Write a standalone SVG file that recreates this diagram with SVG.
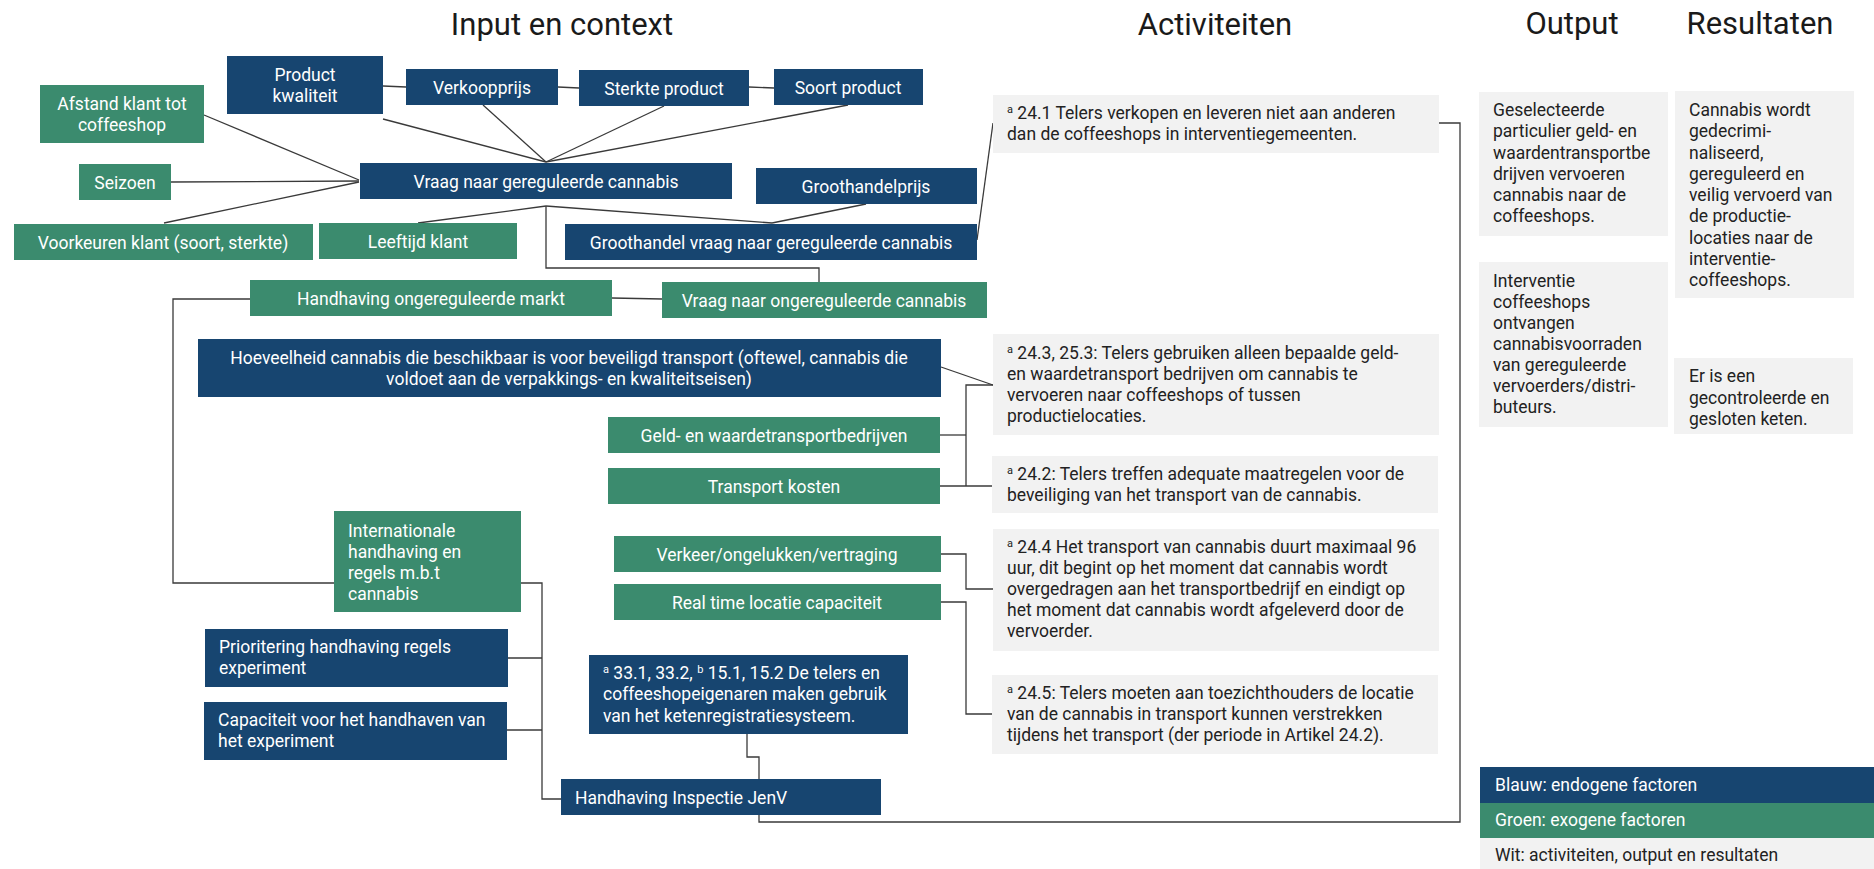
<svg xmlns="http://www.w3.org/2000/svg" width="1874" height="869" viewBox="0 0 1874 869">
<style>
text{font-family:Roboto,"Liberation Sans",sans-serif;font-size:17.5px}
.t{font-size:31px;fill:#1a1a1a;text-anchor:middle}
.b{fill:#174570}
.g{fill:#3b8b6e}
.w{fill:#f2f2f2}
.lw{fill:#fff}
.lc{fill:#fff;text-anchor:middle}
.d{fill:#222}
.sup{font-size:11px}
#connectors path{fill:none;stroke:#3a3a3a;stroke-width:1.3}
</style>
<rect width="1874" height="869" fill="#fff"/>
<g id="titles">
<text class="t" x="562" y="35">Input en context</text>
<text class="t" x="1215" y="35">Activiteiten</text>
<text class="t" x="1572" y="34">Output</text>
<text class="t" x="1760" y="34">Resultaten</text>
</g>
<g id="connectors">
<path d="M383,86 L406,87"/>
<path d="M558,87 L579,88"/>
<path d="M749,87 L774,88"/>
<path d="M204,115 L359,180"/>
<path d="M171,182 L359,181"/>
<path d="M164,223 L359,182"/>
<path d="M383,119 L546,162"/>
<path d="M483,105 L546,162"/>
<path d="M664,106 L546,162"/>
<path d="M848,105 L546,162"/>
<path d="M546,206 L418,223"/>
<path d="M546,206 L772,223"/>
<path d="M866,204 L772,223"/>
<path d="M546,206 L546,268 L819,268 L819,282"/>
<path d="M977,240 L993,123"/>
<path d="M612,298 L662,299"/>
<path d="M250,299 L173,299 L173,583 L334,583"/>
<path d="M941,367 L993,385"/>
<path d="M993,385 L966,385 L966,486"/>
<path d="M940,435 L966,435"/>
<path d="M940,486 L993,486"/>
<path d="M941,554 L966,554 L966,589 L993,589"/>
<path d="M941,602 L966,602 L966,714 L993,714"/>
<path d="M521,583 L542,583 L542,799 L561,799"/>
<path d="M508,658 L542,658"/>
<path d="M507,730 L542,730"/>
<path d="M747,734 L747,757 L759,757 L759,779"/>
<path d="M759,815 L759,822 L1460,822 L1460,123 L1439,123"/>
</g>
<g id="product-kwaliteit"><rect class="b" x="227" y="56" width="156" height="58"/><text class="lc" x="305" y="80.5">Product</text><text class="lc" x="305" y="101.5">kwaliteit</text></g>
<g id="verkoopprijs"><rect class="b" x="406" y="69" width="152" height="36"/><text class="lc" x="482" y="93.5">Verkoopprijs</text></g>
<g id="sterkte-product"><rect class="b" x="579" y="70" width="170" height="36"/><text class="lc" x="664" y="94.5">Sterkte product</text></g>
<g id="soort-product"><rect class="b" x="774" y="69" width="149" height="36"/><text class="lc" x="848" y="93.5">Soort product</text></g>
<g id="afstand-klant"><rect class="g" x="40" y="85" width="164" height="58"/><text class="lc" x="122" y="109.5">Afstand klant tot</text><text class="lc" x="122" y="130.5">coffeeshop</text></g>
<g id="seizoen"><rect class="g" x="79" y="164" width="92" height="36"/><text class="lc" x="125" y="188.5">Seizoen</text></g>
<g id="vraag-gereguleerd"><rect class="b" x="360" y="163" width="372" height="36"/><text class="lc" x="546" y="187.5">Vraag naar gereguleerde cannabis</text></g>
<g id="groothandelprijs"><rect class="b" x="756" y="168" width="221" height="36"/><text class="lc" x="866" y="192.5">Groothandelprijs</text></g>
<g id="voorkeuren-klant"><rect class="g" x="14" y="224" width="299" height="36"/><text class="lc" x="163" y="248.5">Voorkeuren klant (soort, sterkte)</text></g>
<g id="leeftijd-klant"><rect class="g" x="319" y="223" width="198" height="36"/><text class="lc" x="418" y="247.5">Leeftijd klant</text></g>
<g id="groothandel-vraag"><rect class="b" x="565" y="224" width="412" height="36"/><text class="lc" x="771" y="248.5">Groothandel vraag naar gereguleerde cannabis</text></g>
<g id="handhaving-ongereguleerd"><rect class="g" x="250" y="280" width="362" height="36"/><text class="lc" x="431" y="304.5">Handhaving ongereguleerde markt</text></g>
<g id="vraag-ongereguleerd"><rect class="g" x="662" y="282" width="325" height="36"/><text class="lc" x="824" y="306.5">Vraag naar ongereguleerde cannabis</text></g>
<g id="hoeveelheid"><rect class="b" x="198" y="339" width="743" height="58"/><text class="lc" x="569" y="363.5">Hoeveelheid cannabis die beschikbaar is voor beveiligd transport (oftewel, cannabis die</text><text class="lc" x="569" y="384.5">voldoet aan de verpakkings- en kwaliteitseisen)</text></g>
<g id="geld-waardetransport"><rect class="g" x="608" y="417" width="332" height="36"/><text class="lc" x="774" y="441.5">Geld- en waardetransportbedrijven</text></g>
<g id="transport-kosten"><rect class="g" x="608" y="468" width="332" height="36"/><text class="lc" x="774" y="492.5">Transport kosten</text></g>
<g id="internationale-handhaving"><rect class="g" x="334" y="511" width="187" height="101"/><text class="lw" x="348" y="537">Internationale</text><text class="lw" x="348" y="558">handhaving en</text><text class="lw" x="348" y="579">regels m.b.t</text><text class="lw" x="348" y="600">cannabis</text></g>
<g id="verkeer"><rect class="g" x="614" y="536" width="327" height="36"/><text class="lc" x="777" y="560.5">Verkeer/ongelukken/vertraging</text></g>
<g id="real-time"><rect class="g" x="614" y="584" width="327" height="36"/><text class="lc" x="777" y="608.5">Real time locatie capaciteit</text></g>
<g id="prioritering"><rect class="b" x="205" y="629" width="303" height="58"/><text class="lw" x="219" y="653">Prioritering handhaving regels</text><text class="lw" x="219" y="674">experiment</text></g>
<g id="capaciteit"><rect class="b" x="204" y="702" width="303" height="58"/><text class="lw" x="218" y="726">Capaciteit voor het handhaven van</text><text class="lw" x="218" y="747">het experiment</text></g>
<g id="ketenregistratie"><rect class="b" x="589" y="655" width="319" height="79"/><text class="lw" x="603" y="679"><tspan class="sup" dy="-6">a</tspan><tspan dy="6"> 33.1, 33.2, </tspan><tspan class="sup" dy="-6">b</tspan><tspan dy="6"> 15.1, 15.2 De telers en</tspan></text><text class="lw" x="603" y="700">coffeeshopeigenaren maken gebruik</text><text class="lw" x="603" y="722">van het ketenregistratiesysteem.</text></g>
<g id="handhaving-inspectie"><rect class="b" x="561" y="779" width="320" height="36"/><text class="lw" x="575" y="803.5">Handhaving Inspectie JenV</text></g>
<g id="act-24-1"><rect class="w" x="993" y="95" width="446" height="58"/><text class="d" x="1007" y="119"><tspan class="sup" dy="-6">a</tspan><tspan dy="6"> 24.1 Telers verkopen en leveren niet aan anderen</tspan></text><text class="d" x="1007" y="140">dan de coffeeshops in interventiegemeenten.</text></g>
<g id="act-24-3"><rect class="w" x="993" y="334" width="446" height="101"/><text class="d" x="1007" y="359"><tspan class="sup" dy="-6">a</tspan><tspan dy="6"> 24.3, 25.3: Telers gebruiken alleen bepaalde geld-</tspan></text><text class="d" x="1007" y="380">en waardetransport bedrijven om cannabis te</text><text class="d" x="1007" y="401">vervoeren naar coffeeshops of tussen</text><text class="d" x="1007" y="422">productielocaties.</text></g>
<g id="act-24-2"><rect class="w" x="992" y="456" width="446" height="57"/><text class="d" x="1007" y="480"><tspan class="sup" dy="-6">a</tspan><tspan dy="6"> 24.2: Telers treffen adequate maatregelen voor de</tspan></text><text class="d" x="1007" y="501">beveiliging van het transport van de cannabis.</text></g>
<g id="act-24-4"><rect class="w" x="993" y="529" width="446" height="122"/><text class="d" x="1007" y="553"><tspan class="sup" dy="-6">a</tspan><tspan dy="6"> 24.4 Het transport van cannabis duurt maximaal 96</tspan></text><text class="d" x="1007" y="574">uur, dit begint op het moment dat cannabis wordt</text><text class="d" x="1007" y="595">overgedragen aan het transportbedrijf en eindigt op</text><text class="d" x="1007" y="616">het moment dat cannabis wordt afgeleverd door de</text><text class="d" x="1007" y="637">vervoerder.</text></g>
<g id="act-24-5"><rect class="w" x="992" y="675" width="446" height="79"/><text class="d" x="1007" y="699"><tspan class="sup" dy="-6">a</tspan><tspan dy="6"> 24.5: Telers moeten aan toezichthouders de locatie</tspan></text><text class="d" x="1007" y="720">van de cannabis in transport kunnen verstrekken</text><text class="d" x="1007" y="741">tijdens het transport (der periode in Artikel 24.2).</text></g>
<g id="output-1"><rect class="w" x="1479" y="92" width="189" height="144"/><text class="d" x="1493" y="116">Geselecteerde</text><text class="d" x="1493" y="137">particulier geld- en</text><text class="d" x="1493" y="159">waardentransportbe</text><text class="d" x="1493" y="180">drijven vervoeren</text><text class="d" x="1493" y="201">cannabis naar de</text><text class="d" x="1493" y="222">coffeeshops.</text></g>
<g id="output-2"><rect class="w" x="1479" y="262" width="189" height="165"/><text class="d" x="1493" y="287">Interventie</text><text class="d" x="1493" y="308">coffeeshops</text><text class="d" x="1493" y="329">ontvangen</text><text class="d" x="1493" y="350">cannabisvoorraden</text><text class="d" x="1493" y="371">van gereguleerde</text><text class="d" x="1493" y="392">vervoerders/distri-</text><text class="d" x="1493" y="413">buteurs.</text></g>
<g id="result-1"><rect class="w" x="1675" y="91" width="179" height="207"/><text class="d" x="1689" y="116">Cannabis wordt</text><text class="d" x="1689" y="137">gedecrimi-</text><text class="d" x="1689" y="158.5">naliseerd,</text><text class="d" x="1689" y="180">gereguleerd en</text><text class="d" x="1689" y="201">veilig vervoerd van</text><text class="d" x="1689" y="222">de productie-</text><text class="d" x="1689" y="243.5">locaties naar de</text><text class="d" x="1689" y="265">interventie-</text><text class="d" x="1689" y="286">coffeeshops.</text></g>
<g id="result-2"><rect class="w" x="1674" y="358" width="179" height="76"/><text class="d" x="1689" y="382">Er is een</text><text class="d" x="1689" y="403.5">gecontroleerde en</text><text class="d" x="1689" y="425">gesloten keten.</text></g>
<g id="legend">
<rect class="b" x="1480" y="767" width="394" height="36"/><text class="lw" x="1495" y="791">Blauw: endogene factoren</text>
<rect class="g" x="1480" y="803" width="394" height="35"/><text class="lw" x="1495" y="826">Groen: exogene factoren</text>
<rect class="w" x="1480" y="838" width="394" height="31"/><text class="d" x="1495" y="861">Wit: activiteiten, output en resultaten</text>
</g>
</svg>
